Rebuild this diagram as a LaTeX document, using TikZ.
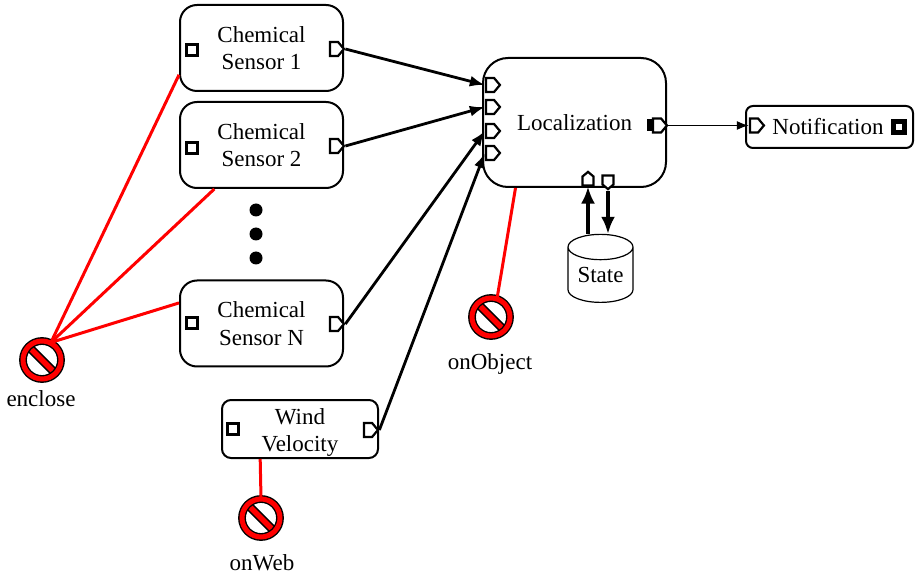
\documentclass[tikz,border=0pt]{standalone}
\usepackage{fontspec}
\setmainfont{Liberation Serif}
\usetikzlibrary{arrows.meta,shapes.geometric,shapes.symbols}
\tikzset{
    compbox/.style={draw, line width=2pt, fill=white, align=center, inner sep=0pt, font=\fontsize{23}{27.5}\selectfont},
    outport/.style={draw, line width=2.2pt, fill=white, shape=signal, signal to=east, signal pointer angle=100, inner sep=0pt, minimum width=14pt, minimum height=14pt},
    upport/.style={outport, signal to=north, minimum width=11pt, minimum height=9pt},
    downport/.style={outport, signal to=south, minimum width=11pt, minimum height=9pt},
    ctlport/.style={draw, line width=3.6pt, fill=white, shape=rectangle, inner sep=0pt, minimum size=11pt},
    flow/.style={draw, line width=2.8pt, -{Latex[length=15pt,width=11pt]}},
    stateflow/.style={draw, line width=3.2pt, -{Latex[length=17pt,width=14pt]}},
    veto/.style={draw=red, line width=3pt},
    nosign/.style={shape=circle, draw=black, double=red, line width=1.4pt, double distance=5pt, fill=white, inner sep=0pt, minimum size=38pt,
        path picture={
            \draw[black, line width=8.5pt] (path picture bounding box.north west) -- (path picture bounding box.south east);
            \draw[red, line width=5.5pt] (path picture bounding box.north west) -- (path picture bounding box.south east);
        }},
    caption/.style={inner sep=0pt, font=\fontsize{23}{27.5}\selectfont},
    blob/.style={shape=circle, fill=black, inner sep=0pt, minimum size=13pt},
}
\begin{document}
\begin{tikzpicture}[x=1pt, y=-1pt]
    \useasboundingbox[fill=white] (0,0) rectangle (916,577);

    % Components
    \node[compbox, minimum width=163pt, minimum height=86pt, rounded corners=17pt] (sensor1) at (261.5,48) {Chemical\\Sensor 1};
    \node[compbox, minimum width=163pt, minimum height=86pt, rounded corners=17pt] (sensor2) at (261.5,145) {Chemical\\Sensor 2};
    \node[compbox, minimum width=163pt, minimum height=86pt, rounded corners=17pt] (sensorN) at (261.5,323.5) {Chemical\\Sensor N};
    \node[compbox, minimum width=156pt, minimum height=58pt, rounded corners=9pt] (wind) at (300,429) {\rule{0pt}{23pt}Wind\\Velocity};
    \node[compbox, minimum width=183pt, minimum height=129pt, rounded corners=25pt] (localization) at (574.5,122.5) {Localization};
    \node[compbox, minimum width=167pt, minimum height=42pt, rounded corners=7pt] (notification) at (829.5,127) {Notification\hspace{3pt}};

    % Dots between the sensors
    \node[blob] (dot1) at (256,210) {};
    \node[blob] (dot2) at (256,234) {};
    \node[blob] (dot3) at (256,258) {};

    % Ports
    \node[ctlport] (sensor1ctl) at (192,50) {};
    \node[ctlport] (sensor2ctl) at (192,148) {};
    \node[ctlport] (sensorNctl) at (192,323) {};
    \node[ctlport] (windctl) at (233,429) {};
    \node[ctlport, line width=4.4pt] (notifyctl) at (899,127) {};
    \node[outport] (sensor1out) at (334,49) {};
    \node[outport] (sensor2out) at (334,146) {};
    \node[outport] (sensorNout) at (334,324) {};
    \node[outport] (windout) at (368,430) {};
    \node[shape=rectangle, fill=black, inner sep=0pt, minimum width=8pt, minimum height=12pt] (locblock) at (651,125.5) {};
    \node[outport] (locout) at (657,125.5) {};
    \node[outport] (notifyin) at (754,125.5) {};
    \node[outport] (locin1) at (490,85) {};
    \node[outport] (locin2) at (490,107) {};
    \node[outport] (locin3) at (490,131) {};
    \node[outport] (locin4) at (490,153) {};
    \node[upport] (stateget) at (588,181) {};
    \node[downport] (stateput) at (608,180) {};

    % State store
    \node[draw, line width=1.2pt, fill=white, shape=cylinder, shape border rotate=90, aspect=0.55, inner sep=0pt, minimum width=65pt, minimum height=68pt, font=\fontsize{23}{27.5}\selectfont] (state) at (600.5,275) {State};

    % Data flow
    \draw[flow] (sensor1out.east) -- (locin1.west);
    \draw[flow] (sensor2out.east) -- (locin2.west);
    \draw[flow] (sensorNout.east) -- (locin3.west);
    \draw[flow] (windout.east) -- (locin4.west);
    \draw[draw, line width=1.6pt, -{Latex[length=12pt,width=9pt]}] (locout.east) -- (notifyin.west);
    \draw[stateflow] (state.north -| stateget) -- (stateget.south);
    \draw[stateflow] (stateput.south) -- (state.north -| stateput);

    % Restrictions
    \node[nosign] (enclose) at (42,360) {};
    \node[nosign] (onobject) at (491,317) {};
    \node[nosign] (onweb) at (261,518) {};
    \draw[veto] (sensor1.198) -- (enclose.63);
    \draw[veto] (sensor2.223) -- (enclose.63);
    \draw[veto] (sensorN.166) -- (enclose.63);
    \draw[veto] (localization.228) -- (onobject.72);
    \draw[veto] (wind.217) -- (onweb.north);

    % Captions
    \node[caption] (enclosetext) at (41,399) {enclose};
    \node[caption] (onobjecttext) at (490,363.5) {onObject};
    \node[caption] (onwebtext) at (262,563) {onWeb};
\end{tikzpicture}
\end{document}
